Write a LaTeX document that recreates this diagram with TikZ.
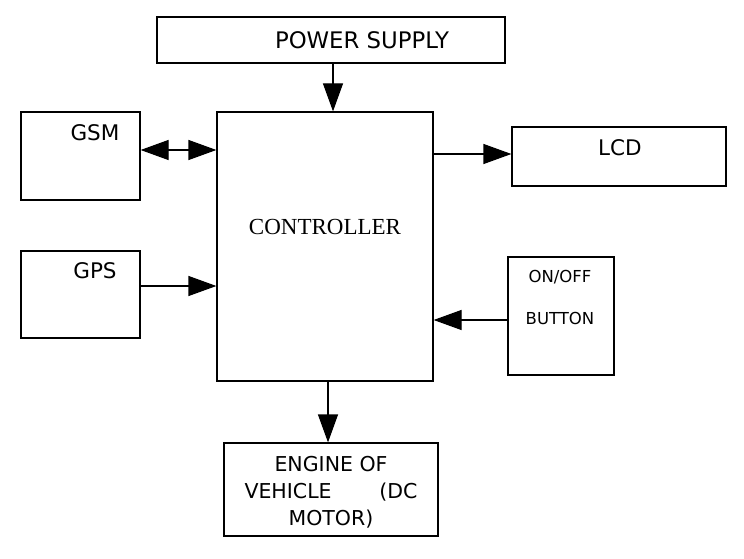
\documentclass[tikz,border=0pt]{standalone}
\usepackage{fontspec}
\setmainfont{DejaVu Sans}
\newfontfamily\serifctrl{Liberation Serif}
\usetikzlibrary{arrows.meta}
\begin{document}
\begin{tikzpicture}[x=1pt,y=-1pt,
  box/.style={draw,line width=1.2pt,inner sep=0pt,anchor=center},
  lbl/.style={inner sep=0pt,anchor=center,font=\fontsize{21.5}{27}\selectfont},
  arr/.style={line width=1.2pt,-{Triangle[length=28pt,width=20pt]}},
  darr/.style={line width=1.2pt,{Triangle[length=28pt,width=20pt]}-{Triangle[length=28pt,width=20pt]}}]
\useasboundingbox (0,0) rectangle (744,559);
\node[box,minimum width=348pt,minimum height=46pt] (power) at (331,40) {};
\node[box,minimum width=119pt,minimum height=88pt] (gsm) at (80.5,156) {};
\node[box,minimum width=119pt,minimum height=87pt] (gps) at (80.5,294.5) {};
\node[box,minimum width=216pt,minimum height=269pt] (ctrl) at (325,246.5) {};
\node[box,minimum width=214pt,minimum height=59pt] (lcd) at (619,156.5) {};
\node[box,minimum width=106pt,minimum height=118pt] (btn) at (561,316) {};
\node[box,minimum width=214pt,minimum height=93pt] (eng) at (331,489.5) {};
\node[lbl,font=\fontsize{22.8}{27}\selectfont] (tpower) at (362,40) {POWER SUPPLY};
\node[lbl] (tgsm) at (95,133) {GSM};
\node[lbl] (tgps) at (95,271) {GPS};
\node[lbl] (tlcd) at (620,148) {LCD};
\node[lbl,font=\fontsize{23}{27}\serifctrl] (tctrl) at (325,227) {CONTROLLER};
\node[lbl,font=\fontsize{16.5}{20}\selectfont] (ton) at (560,277) {ON/OFF};
\node[lbl,font=\fontsize{16.5}{20}\selectfont] (tbtn) at (560,318) {BUTTON};
\node[lbl,font=\fontsize{20.5}{27}\selectfont,align=center] (teng) at (331,492) {ENGINE OF\\\makebox[173pt]{VEHICLE\hfill(DC}\\MOTOR)};
\draw[arr] (power.south -| 333,0) -- (ctrl.north -| 333,0);
\draw[darr] (gsm.east |- 0,150) -- (ctrl.west |- 0,150);
\draw[arr] (gps.east |- 0,286) -- (ctrl.west |- 0,286);
\draw[arr] (ctrl.east |- 0,154) -- (lcd.west |- 0,154);
\draw[arr] (btn.west |- 0,320) -- (ctrl.east |- 0,320);
\draw[arr] (ctrl.south -| 328,0) -- (eng.north -| 328,0);
\end{tikzpicture}
\end{document}
